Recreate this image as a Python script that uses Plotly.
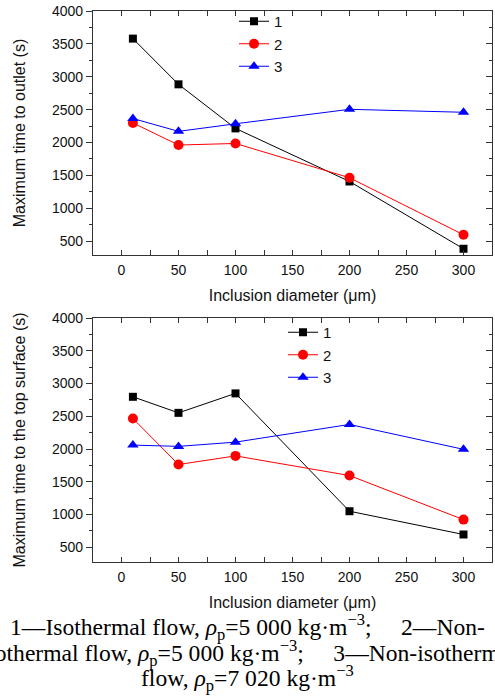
import plotly.graph_objects as go

diam = [10, 50, 100, 200, 300]
outlet_1 = [3580, 2885, 2215, 1408, 385]
outlet_2 = [2298, 1962, 1986, 1465, 597]
outlet_3 = [2365, 2170, 2285, 2505, 2460]
top_1 = [2797, 2552, 2849, 1050, 695]
top_2 = [2466, 1763, 1895, 1595, 922]
top_3 = [2060, 2040, 2105, 2375, 1995]
names = ["1", "2", "3"]
x_ticks = [0, 50, 100, 150, 200, 250, 300]
y_ticks = [500, 1000, 1500, 2000, 2500, 3000, 3500, 4000]
colors = ["black", "#ff0000", "#0000ff"]
symbols = ["square", "circle", "triangle-up"]
sizes = [8, 10, 10]

W, H = 495, 699
fig = go.Figure()

def px2x(p):
    return p / W

def px2y(p):
    return 1 - p / H

xdom = [px2x(93), px2x(492)]
ydom_top = [px2y(255), px2y(11)]
ydom_bot = [px2y(562), px2y(318)]

for i, ys in enumerate([outlet_1, outlet_2, outlet_3]):
    fig.add_trace(go.Scatter(x=diam, y=ys, name=names[i], mode="lines+markers",
                             line=dict(color=colors[i], width=1),
                             marker=dict(symbol=symbols[i], size=sizes[i], color=colors[i]),
                             xaxis="x", yaxis="y", legend="legend"))
for i, ys in enumerate([top_1, top_2, top_3]):
    fig.add_trace(go.Scatter(x=diam, y=ys, name=names[i], mode="lines+markers",
                             line=dict(color=colors[i], width=1),
                             marker=dict(symbol=symbols[i], size=sizes[i], color=colors[i]),
                             xaxis="x2", yaxis="y2", legend="legend2"))
# invisible helper traces so the right-hand mirror axes are drawn
fig.add_trace(go.Scatter(x=diam, y=outlet_1, xaxis="x", yaxis="y3", mode="markers",
                         marker=dict(opacity=0), showlegend=False, hoverinfo="skip"))
fig.add_trace(go.Scatter(x=diam, y=top_1, xaxis="x2", yaxis="y4", mode="markers",
                         marker=dict(opacity=0), showlegend=False, hoverinfo="skip"))

font = "Liberation Sans, Arial, sans-serif"
AX = "#333"
xr = [-25, 325]
yr_top = [290, 4000]
yr_bot = [275, 4000]

def xax(domain, anchor):
    return dict(domain=domain, anchor=anchor, range=xr, tickvals=x_ticks,
                ticks="inside", ticklen=5, tickwidth=1, tickcolor=AX, mirror="allticks",
                minor=dict(ticks="inside", ticklen=3, dtick=25, tick0=0, tickcolor=AX),
                showline=True, linecolor=AX, linewidth=1.3, showgrid=False, zeroline=False,
                tickfont=dict(family=font, size=14, color="#111"), ticklabelstandoff=2,
                title=dict(text="Inclusion diameter (μm)", font=dict(family=font, size=16, color="#111"), standoff=12))

def yax(domain, anchor, rng, title):
    return dict(domain=domain, anchor=anchor, range=rng, tickvals=y_ticks,
                ticks="outside", ticklen=6, tickwidth=1, tickcolor=AX,
                minor=dict(ticks="outside", ticklen=3, dtick=250, tick0=0, tickcolor=AX),
                showline=True, linecolor=AX, linewidth=1.3, showgrid=False, zeroline=False,
                tickfont=dict(family=font, size=14, color="#111"),
                title=dict(text=title, font=dict(family=font, size=16, color="#111"), standoff=22))

def ymirror(over, anchor, domain, rng):
    return dict(overlaying=over, anchor=anchor, side="right", domain=domain, range=rng,
                tickvals=y_ticks, ticks="inside", ticklen=6, tickcolor=AX,
                minor=dict(ticks="inside", ticklen=3, dtick=250, tick0=0, tickcolor=AX),
                showticklabels=False, showline=True, linecolor=AX, linewidth=1.3,
                showgrid=False, zeroline=False)

nb = "\u00a0"
cap1 = "1—Isothermal flow, <i>ρ</i><sub>p</sub>=5" + nb + "000 kg·m<sup>−3</sup>;" + nb * 5 + "2—Non-"
cap2 = "isothermal flow, <i>ρ</i><sub>p</sub>=5" + nb + "000 kg·m<sup>−3</sup>;" + nb * 5 + "3—Non-isothermal"
cap3 = "flow, <i>ρ</i><sub>p</sub>=7" + nb + "020 kg·m<sup>−3</sup>"
capfont = dict(family="Liberation Serif, Times New Roman, serif", size=23.6, color="black")

legfont = dict(family=font, size=15, color="#111")

fig.update_layout(
    width=W, height=H, margin=dict(l=0, r=0, t=0, b=0, autoexpand=False),
    paper_bgcolor="white", plot_bgcolor="white",
    xaxis=xax(xdom, "y"), yaxis=yax(ydom_top, "x", yr_top, "Maximum time to outlet (s)"),
    xaxis2=xax(xdom, "y2"), yaxis2=yax(ydom_bot, "x2", yr_bot, "Maximum time to the top surface (s)"),
    yaxis3=ymirror("y", "x", ydom_top, yr_top),
    yaxis4=ymirror("y2", "x2", ydom_bot, yr_bot),
    legend=dict(x=px2x(234), y=px2y(5), xanchor="left", yanchor="top", bgcolor="rgba(0,0,0,0)",
                font=legfont, tracegroupgap=0),
    legend2=dict(x=px2x(283), y=px2y(316), xanchor="left", yanchor="top", bgcolor="rgba(0,0,0,0)",
                 font=legfont, tracegroupgap=0),
    annotations=[
        dict(text=cap1, x=0.5, y=px2y(627), xref="paper", yref="paper", showarrow=False,
             xanchor="center", yanchor="middle", font=capfont),
        dict(text=cap2, x=0.5, y=px2y(653), xref="paper", yref="paper", showarrow=False,
             xanchor="center", yanchor="middle", font=capfont),
        dict(text=cap3, x=0.5, y=px2y(678), xref="paper", yref="paper", showarrow=False,
             xanchor="center", yanchor="middle", font=capfont),
    ],
    showlegend=True,
)

fig.write_html("out.html")
